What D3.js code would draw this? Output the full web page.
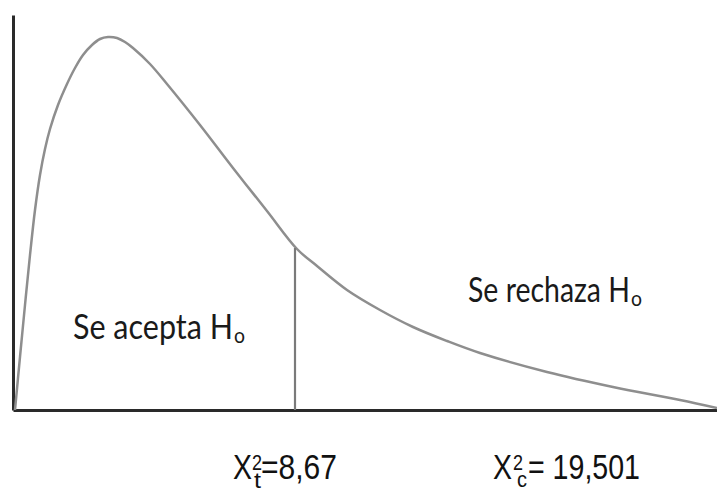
<!DOCTYPE html>
<html>
<head>
<meta charset="utf-8">
<script src="https://cdn.jsdelivr.net/npm/d3@7"></script>
<style>
  body { margin: 0; background: #fff; }
  svg { display: block; }
</style>
</head>
<body>
<svg width="717" height="491"></svg>
<script>
// curve (x along the axis, y = height of the density)
var curveX = [2, 7, 12, 17, 22, 27, 32, 37, 45, 54, 62, 70, 79, 87, 95, 104, 112, 120, 137, 154, 187, 220, 254, 284, 304, 334, 367, 400, 434, 467, 534, 600, 667, 704];
var curveY = [0, 53, 105, 155, 200, 235, 261, 281, 305, 326, 342, 355, 365, 371, 373, 372, 368, 362, 346, 326, 285, 242, 199, 161, 144, 120, 100, 83, 69, 57, 38, 23, 10, 2];
// critical value line
var critX = [282];
var critY = [162];
var regionLabels = ["Se acepta H", "Se rechaza H"];
var regionSubs = ["o", "o"];
// statistic labels: base letter, superscript, subscript, value
var statBase = ["X", "X"];
var statSup = ["2", "2"];
var statSub = ["t", "c"];
var statValue = ["=8,67", "= 19,501"];

var svg = d3.select("svg");

var x = d3.scaleLinear().domain([0, 704]).range([13, 717]);
var y = d3.scaleLinear().domain([0, 395]).range([410, 15]);

var pts = curveX.map(function (d, i) { return [d, curveY[i]]; });

// axes, no ticks
svg.append("g")
    .attr("transform", "translate(0,410)")
    .call(d3.axisBottom(x).ticks(0).tickSizeOuter(0))
    .select(".domain")
    .attr("stroke", "#2a2a2a")
    .attr("stroke-width", 3);

svg.append("g")
    .attr("transform", "translate(13,0)")
    .call(d3.axisLeft(y).ticks(0).tickSizeOuter(0))
    .select(".domain")
    .attr("stroke", "#2a2a2a")
    .attr("stroke-width", 3);

// density curve
var line = d3.line()
    .x(function (d) { return x(d[0]); })
    .y(function (d) { return y(d[1]); })
    .curve(d3.curveCatmullRom.alpha(0.5));

svg.append("path")
    .datum(pts)
    .attr("d", line)
    .attr("fill", "none")
    .attr("stroke", "#8e8e8e")
    .attr("stroke-width", 2.5);

// vertical line at the table value
svg.selectAll(".crit")
    .data(critX)
    .enter()
    .append("line")
    .attr("class", "crit")
    .attr("x1", function (d) { return x(d); })
    .attr("x2", function (d) { return x(d); })
    .attr("y1", y(0))
    .attr("y2", function (d, i) { return y(critY[i]); })
    .attr("stroke", "#7a7a7a")
    .attr("stroke-width", 2.2);

// region labels  [x, baseline, width of main text]
var regionPos = [[73, 339, 160], [468, 302, 162]];
var sans = "Lato, 'Open Sans', sans-serif";
regionLabels.forEach(function (lab, i) {
    var p = regionPos[i];
    svg.append("text")
        .attr("x", p[0]).attr("y", p[1])
        .attr("font-family", sans)
        .attr("font-size", 35)
        .attr("fill", "#1a1a1a")
        .attr("textLength", p[2])
        .attr("lengthAdjust", "spacingAndGlyphs")
        .text(lab);
    svg.append("text")
        .attr("x", p[0] + p[2] + 1).attr("y", p[1] + 4)
        .attr("font-family", sans)
        .attr("font-size", 21)
        .attr("fill", "#1a1a1a")
        .attr("textLength", 11)
        .attr("lengthAdjust", "spacingAndGlyphs")
        .text(regionSubs[i]);
});

// statistic labels
var narrow = "'Liberation Sans Narrow', 'Liberation Sans', Arial, sans-serif";
var statPos = [
    { x: 233, xs: 252, xb: 254, xv: 261, wv: 76, subY: 488 },
    { x: 493, xs: 513, xb: 517, xv: 528, wv: 112, subY: 487 }
];
function piece(str, px, py, size, w) {
    var t = svg.append("text")
        .attr("x", px).attr("y", py)
        .attr("font-family", narrow)
        .attr("font-size", size)
        .attr("fill", "#111")
        .text(str);
    if (w) t.attr("textLength", w).attr("lengthAdjust", "spacingAndGlyphs");
    return t;
}
statBase.forEach(function (b, i) {
    var p = statPos[i];
    piece(b, p.x, 479, 35, 19);
    piece(statSup[i], p.xs, 470, 22, 10);
    piece(statSub[i], p.xb, p.subY, 22, i === 0 ? 7 : 10);
    piece(statValue[i], p.xv, 479, 35, p.wv);
});
</script>
</body>
</html>
